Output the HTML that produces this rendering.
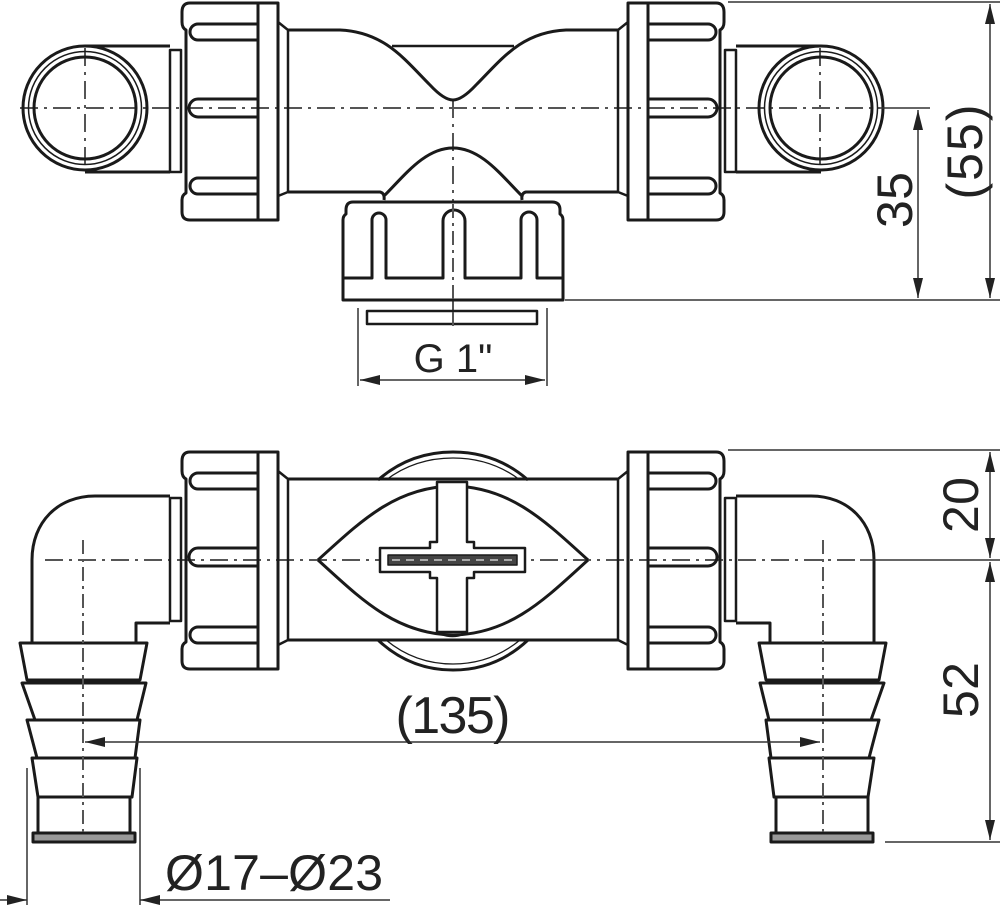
<!DOCTYPE html>
<html><head><meta charset="utf-8"><style>
html,body{margin:0;padding:0;background:#fff;}
svg{display:block;}
text{font-family:"Liberation Sans Narrow","Liberation Sans",sans-serif;fill:#222;}
</style></head><body>
<svg width="1000" height="909" viewBox="0 0 1000 909" xmlns="http://www.w3.org/2000/svg">
<defs>
<marker id="ar" viewBox="0 0 20 10" refX="20" refY="5" markerWidth="20" markerHeight="10" markerUnits="userSpaceOnUse" orient="auto-start-reverse"><path d="M0,0 L20,5 L0,10 z" fill="#222"/></marker>
<g id="nutTop" fill="none" stroke="#1a1a1a" stroke-width="3" stroke-linejoin="round">
  <path d="M190,3 H278 V220 H190 Q182,220 182,212 V200 Q182,195 186,193 V30 Q182,28 182,22 V12 Q182,3 190,3 Z"/>
  <path d="M258,3 V220"/>
  <path d="M258,24 H198 A8,8 0 0 0 198,40 H258"/>
  <path d="M258,99 H198 A9,9 0 0 0 198,117 H258"/>
  <path d="M258,178 H198 A8,8 0 0 0 198,194 H258"/>
</g>
<g id="halfTop" fill="none" stroke="#1a1a1a" stroke-width="3" stroke-linejoin="round">
  <circle cx="85" cy="108" r="62"/>
  <circle cx="85" cy="108" r="56.5" stroke-width="1.5"/>
  <circle cx="85" cy="108" r="51"/>
  <path d="M85,46 H170 M85,172 H170"/>
  <rect x="170" y="50" width="11" height="122" stroke-width="2.5"/>
  <use href="#nutTop"/>
  <path d="M278,22 L288,30 V192 L278,196" stroke-width="2.5"/>
  <path d="M288,30 H340 C385,32 405,60 430,85 Q444,100 453,100"/>
  <path d="M392,46 H453" stroke-width="2.5"/>
  <path d="M288,192 H380 Q385,193 384,200"/>
  <path d="M384,196 C405,175 425,148 453,148"/>
</g>
<g id="halfBot" fill="none" stroke="#1a1a1a" stroke-width="3" stroke-linejoin="round">
  <g transform="translate(0,449)">
    <use href="#nutTop"/>
  </g>
  <path d="M278,471 L288,479 V640 L278,645" stroke-width="2.5"/>
  <path d="M288,479 H453 M288,640 H453"/>
  <path d="M378,480 Q410,452 453,452" />
  <path d="M386,480 Q415,458 453,458" stroke-width="1.3"/>
  <path d="M378,640 Q410,670 453,670"/>
  <path d="M386,640 Q415,664 453,664" stroke-width="1.3"/>
  <path d="M318,560 C360,522 395,487 453,486"/>
  <path d="M318,560 C360,598 395,634 453,635"/>
  <rect x="170" y="498" width="11" height="123" stroke-width="2.5"/>
  <path d="M170,496 H95 C58,496 32,522 32,560 V643"/>
  <path d="M170,623 H136 V643"/>
  <path d="M20,643 H147 L140,680 H27 Z"/>
  <path d="M22,683 H146 L137,720 H35 Z"/>
  <path d="M27,720 H140 L135,758 H37 Z"/>
  <path d="M32,758 H137 L132,797 H38 Z"/>
  <path d="M38,797 H130 V833 H38 Z"/>
  <rect x="33" y="833" width="102" height="9" fill="#999" stroke-width="3"/>
  <path d="M83,540 V835" stroke="#555" stroke-width="2" stroke-dasharray="14 5 3 5"/>
</g>
</defs>

<g stroke="#555" stroke-width="2" stroke-dasharray="18 6 3 6" fill="none">
  <path d="M20,108 H880"/>
  <path d="M85,48 V170 M820,48 V170"/>
  <path d="M453,100 V330"/>
  <path d="M45,560 H860"/>
</g>

<use href="#halfTop"/>
<use href="#halfTop" transform="translate(906,0) scale(-1,1)"/>
<use href="#halfBot"/>
<use href="#halfBot" transform="translate(906,0) scale(-1,1)"/>

<g fill="none" stroke="#1a1a1a" stroke-width="3" stroke-linejoin="round">
  <path d="M353,202 H552 Q560,202 560,210 V214 Q563,216 563,220 V300 H343 V220 Q343,216 346,214 V210 Q346,202 353,202 Z" fill="#fff"/>
  <path d="M343,278 H372 V220 A7,7 0 0 1 386,220 V278 H443 V221 A11,11 0 0 1 465,221 V278 H521 V220 A8,8 0 0 1 537,220 V278 H563"/>
  <rect x="367" y="311" width="170" height="13" stroke-width="2.5"/>
  <path d="M453,204 V330" stroke="#555" stroke-width="2" stroke-dasharray="14 5 3 5"/>
</g>

<g fill="#fff" stroke="#1a1a1a" stroke-width="2.5" stroke-linejoin="round">
  <path d="M437,482 H467 V542 H474 V548 H525 V572 H474 V578 H467 V632 H437 V578 H430 V572 H380 V548 H430 V542 H437 Z"/>
  <rect x="388" y="555" width="129" height="10" fill="#444" stroke-width="1.5"/>
  <path d="M392,560 H514" stroke="#ccc" stroke-width="1.5" stroke-dasharray="8 6"/>
  <path d="M437,632 Q453,640 467,632" fill="none"/>
</g>

<g stroke="#333" stroke-width="1.5" fill="none">
  <path d="M728,2 H1000 M880,108 H930 M565,300 H1000"/>
  <path d="M918,110 V298" marker-start="url(#ar)" marker-end="url(#ar)"/>
  <path d="M990,4 V298" marker-start="url(#ar)" marker-end="url(#ar)"/>
  <path d="M358,308 V386 M547,308 V386"/>
  <path d="M360,380 H545" marker-start="url(#ar)" marker-end="url(#ar)"/>
  <path d="M728,450 H1000 M860,560 H1000 M885,842 H1000"/>
  <path d="M990,452 V558" marker-start="url(#ar)" marker-end="url(#ar)"/>
  <path d="M990,562 V840" marker-start="url(#ar)" marker-end="url(#ar)"/>
  <path d="M85,742 H820" marker-start="url(#ar)" marker-end="url(#ar)"/>
  <path d="M27,768 V905 M140,768 V905"/>
  <path d="M0,900 H27" marker-end="url(#ar)"/>
  <path d="M390,900 H140" marker-end="url(#ar)"/>
</g>

<text x="453" y="372" font-size="40" text-anchor="middle">G 1"</text>
<text x="453" y="733" font-size="52" text-anchor="middle" textLength="115">(135)</text>
<text x="165" y="890" font-size="50" textLength="218">Ø17–Ø23</text>
<text transform="translate(912,200) rotate(-90)" font-size="50" text-anchor="middle" textLength="56">35</text>
<text transform="translate(982,152) rotate(-90)" font-size="50" text-anchor="middle" textLength="95">(55)</text>
<text transform="translate(978,505) rotate(-90)" font-size="50" text-anchor="middle" textLength="56">20</text>
<text transform="translate(978,690) rotate(-90)" font-size="50" text-anchor="middle" textLength="56">52</text>
</svg>
</body></html>
